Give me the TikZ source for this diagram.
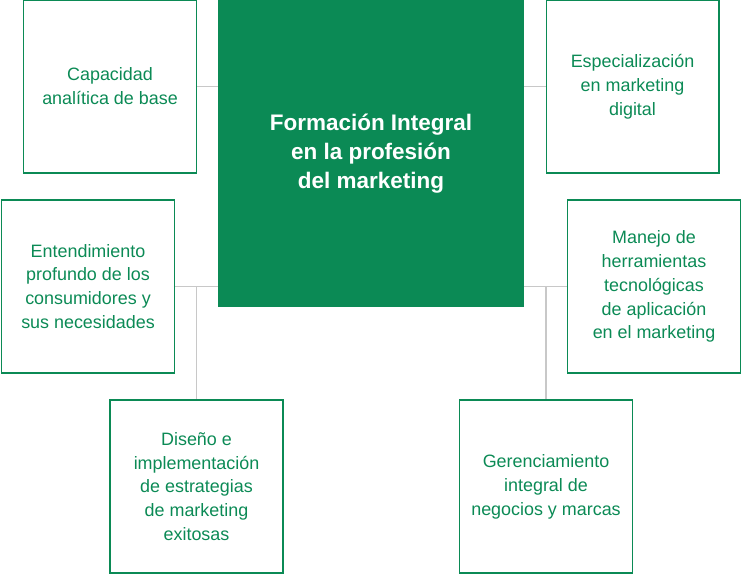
\documentclass[tikz,border=0pt]{standalone}
\usepackage{fontspec}
\setmainfont{Liberation Sans}
\definecolor{mkgreen}{HTML}{0B8A55}
\definecolor{mkline}{HTML}{C8C8C8}
\begin{document}
\begin{tikzpicture}[x=0.02cm,y=-0.02cm]
%%%%%%%%%%%%%%%%%%%%%%%%%%%%%%%%%%%%%%%%%%%%%%%%%%%%%%%%
% STYLE
\tikzstyle{box}=[rectangle,draw=mkgreen,line width=0.6pt,minimum width=3.46cm,minimum height=3.46cm,align=center,text=mkgreen,font=\fontsize{10.2}{13.6}\selectfont,inner sep=2pt]
\tikzstyle{center}=[rectangle,fill=mkgreen,minimum width=6.12cm,minimum height=6.14cm,align=center,text=white,font=\fontsize{12.8}{16.5}\selectfont\bfseries]
\tikzstyle{link}=[draw=mkline,line width=0.6pt]

\useasboundingbox (0,0) rectangle (742,574);
%%%%%%%%%%%%%%%%%%%%%%%%%%%%%%%%%%%%%%%%%%%%%%%%%%%%%%%%
% NODES
\node[center] (C) at (371,153.5) {Formación Integral\\en la profesión\\del marketing};

\node[box] (B1) at (110,86.5) {Capacidad\\analítica de base};
\node[box] (B2) at (632.5,86.5) {Especialización\\en marketing\\digital};
\node[box] (B3) at (88,286.5) {Entendimiento\\profundo de los\\consumidores y\\sus necesidades};
\node[box] (B4) at (654,286.5) {Manejo de\\herramientas\\tecnológicas\\de aplicación\\en el marketing};
\node[box] (B5) at (196.5,486.5) {Diseño e\\implementación\\de estrategias\\de marketing\\exitosas};
\node[box] (B6) at (546,486.5) {Gerenciamiento\\integral de\\negocios y marcas};

\coordinate (JL) at (196.5,287);
\coordinate (JR) at (546,287);
%%%%%%%%%%%%%%%%%%%%%%%%%%%%%%%%%%%%%%%%%%%%%%%%%%%%%%%%
% LINKS
\draw[link] (B1.east) -- (B1.east -| C.west);
\draw[link] (B2.west) -- (B2.west -| C.east);
\draw[link] (B3.east) -- (B3.east -| C.west);
\draw[link] (B4.west) -- (B4.west -| C.east);
\draw[link] (JL) -- (B5.north);
\draw[link] (JR) -- (B6.north);

\end{tikzpicture}
\end{document}
